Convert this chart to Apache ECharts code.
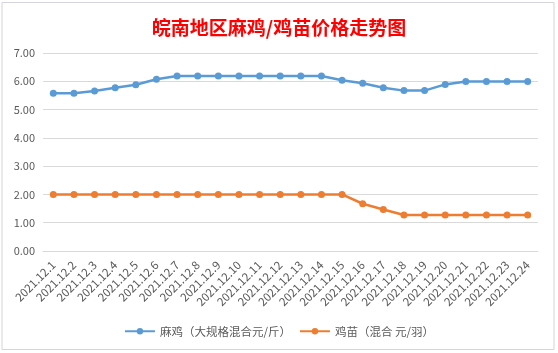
<!DOCTYPE html>
<html>
<head>
<meta charset="utf-8">
<script src="https://cdn.jsdelivr.net/npm/echarts@6/dist/echarts.min.js"></script>
<style>
  html, body { margin: 0; padding: 0; background: #fff; }
  #chart { width: 558px; height: 353px; }
</style>
</head>
<body>
<div id="chart"></div>
<script>
// 日期
var dates = ['2021.12.1', '2021.12.2', '2021.12.3', '2021.12.4', '2021.12.5', '2021.12.6',
  '2021.12.7', '2021.12.8', '2021.12.9', '2021.12.10', '2021.12.11', '2021.12.12',
  '2021.12.13', '2021.12.14', '2021.12.15', '2021.12.16', '2021.12.17', '2021.12.18',
  '2021.12.19', '2021.12.20', '2021.12.21', '2021.12.22', '2021.12.23', '2021.12.24'];
// 麻鸡（大规格混合元/斤）
var majiPrice = [5.58, 5.58, 5.66, 5.77, 5.88, 6.07, 6.19, 6.19, 6.19, 6.19, 6.19, 6.19,
  6.19, 6.19, 6.04, 5.93, 5.77, 5.67, 5.67, 5.89, 5.99, 5.99, 5.99, 5.99];
// 鸡苗（混合 元/羽）
var jimiaoPrice = [2.0, 2.0, 2.0, 2.0, 2.0, 2.0, 2.0, 2.0, 2.0, 2.0, 2.0, 2.0,
  2.0, 2.0, 2.0, 1.67, 1.47, 1.27, 1.27, 1.27, 1.27, 1.27, 1.27, 1.27];
var seriesNames = ['麻鸡（大规格混合元/斤）', '鸡苗（混合 元/羽）'];

var chart = echarts.init(document.getElementById('chart'));
var option = {
  backgroundColor: '#fff',
  color: ['#5B9BD5', '#ED7D31'],
  textStyle: { fontFamily: 'Noto Sans CJK SC' },
  title: {
    text: '皖南地区麻鸡/鸡苗价格走势图',
    left: 'center',
    top: 13,
    textStyle: {
      color: '#ff0000',
      fontSize: 19,
      fontWeight: 'bold',
      fontFamily: 'Noto Sans CJK SC'
    }
  },
  graphic: [{
    type: 'rect',
    shape: { x: 2, y: 2.5, width: 552, height: 347 },
    style: { fill: 'none', stroke: '#d4d4dc', lineWidth: 1 },
    z: -1
  }],
  legend: {
    data: seriesNames,
    bottom: 11,
    left: 'center',
    itemWidth: 30,
    itemHeight: 8,
    itemGap: 8,
    textStyle: { color: '#595959', fontSize: 11.5 }
  },
  grid: {
    left: 43,
    right: 20,
    top: 53,
    bottom: 102
  },
  xAxis: {
    type: 'category',
    data: dates,
    boundaryGap: true,
    axisLine: { lineStyle: { color: '#d9d9d9' } },
    axisTick: { show: false },
    axisLabel: {
      rotate: 45,
      interval: 0,
      color: '#595959',
      fontSize: 11.5,
      margin: 12
    }
  },
  yAxis: {
    type: 'value',
    min: 0,
    max: 7,
    interval: 1,
    axisLine: { show: false },
    axisTick: { show: false },
    axisLabel: {
      color: '#595959',
      fontSize: 11,
      margin: 8,
      formatter: function (v) { return v.toFixed(2); }
    },
    splitLine: { lineStyle: { color: '#d9d9d9' } }
  },
  series: [{
    name: seriesNames[0],
    type: 'line',
    data: majiPrice,
    symbol: 'circle',
    symbolSize: 7,
    lineStyle: { width: 2.5 }
  }, {
    name: seriesNames[1],
    type: 'line',
    data: jimiaoPrice,
    symbol: 'circle',
    symbolSize: 7,
    lineStyle: { width: 2.5 }
  }]
};
chart.setOption(option);
</script>
</body>
</html>
